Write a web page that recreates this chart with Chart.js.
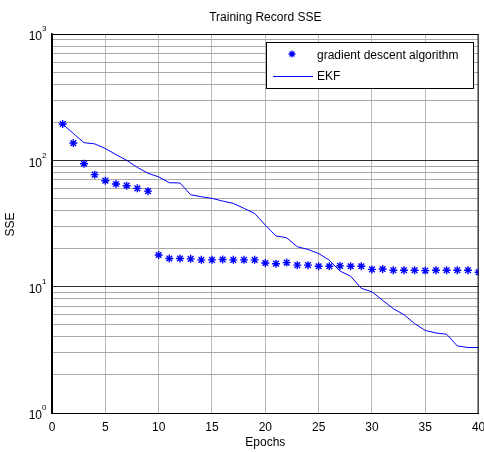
<!DOCTYPE html>
<html>
<head>
<meta charset="utf-8">
<script src="https://cdn.jsdelivr.net/npm/chart.js@4/dist/chart.umd.min.js"></script>
<style>
  html, body { margin: 0; padding: 0; background: #fff; }
  #wrap { width: 484px; height: 452px; }
</style>
</head>
<body>
<div id="wrap"><canvas id="chart" width="484" height="452"></canvas></div>
<script>
// data
const epochs = [1,2,3,4,5,6,7,8,9,10,11,12,13,14,15,16,17,18,19,20,21,22,23,24,25,26,27,28,29,30,31,32,33,34,35,36,37,38,39,40];
const gradientSSE = [194,137,94,77,69,65,63,60,57,17.8,16.7,16.7,16.6,16.3,16.3,16.4,16.3,16.3,16.3,15.4,15.2,15.5,14.8,14.8,14.5,14.5,14.6,14.5,14.5,13.7,13.8,13.5,13.5,13.5,13.4,13.5,13.5,13.5,13.5,13.0];
const ekfSSE = [194,163,138,135,124,111,100,88,79,74,66.5,66.2,53.4,51.5,50,47.6,45.6,41.7,38,30.7,25.2,24.4,20.7,19.7,18.3,16.2,13.3,12.1,9.7,9.1,7.8,6.7,6.0,5.1,4.5,4.3,4.2,3.4,3.3,3.3];
const xTicks = [0,5,10,15,20,25,30,35,40];
const yDecades = [1,10,100,1000];
const yGridTicks = [1,2,3,4,5,6,7,8,9,10,20,30,40,50,60,70,80,90,100,200,300,400,500,600,700,800,900,1000];

const FONT = '"Liberation Sans", Arial, sans-serif';
const BLUE = '#0000ff';

const toPoints = (ys) => epochs.map((x, i) => ({ x: x, y: ys[i] }));

// text, frame and legend drawn the MATLAB way
const matlabDecor = {
  id: 'matlabDecor',
  afterDraw(chart) {
    const ctx = chart.ctx;
    const area = chart.chartArea;
    const xs = chart.scales.x;
    const ys = chart.scales.y;
    ctx.save();

    // frame
    ctx.strokeStyle = '#000';
    ctx.lineWidth = 1;
    ctx.strokeRect(area.left + 0.5, area.top + 0.5, area.right - area.left - 1, area.bottom - area.top);

    ctx.fillStyle = '#000';
    ctx.font = '12px ' + FONT;
    ctx.textAlign = 'center';
    ctx.textBaseline = 'top';
    xTicks.forEach(v => {
      ctx.fillText(String(v), xs.getPixelForValue(v), area.bottom + 9);
    });

    yDecades.forEach((v, i) => {
      const py = ys.getPixelForValue(v);
      ctx.font = '12px ' + FONT;
      ctx.textAlign = 'right';
      ctx.textBaseline = 'middle';
      ctx.fillText('10', area.left - 10, py + 3);
      ctx.font = '8px ' + FONT;
      ctx.textAlign = 'left';
      ctx.fillText(String(i), area.left - 10, py - 5);
    });

    // title and axis labels
    ctx.font = '12px ' + FONT;
    ctx.textAlign = 'center';
    ctx.textBaseline = 'middle';
    ctx.fillText('Training Record SSE', (area.left + area.right) / 2, 18);
    ctx.fillText('Epochs', (area.left + area.right) / 2, 443);
    ctx.save();
    ctx.translate(11, (area.top + area.bottom) / 2 + 1);
    ctx.rotate(-Math.PI / 2);
    ctx.fillText('SSE', 0, 0);
    ctx.restore();

    // legend
    ctx.fillStyle = '#fff';
    ctx.fillRect(266, 42, 207, 46);
    ctx.strokeStyle = '#000';
    ctx.strokeRect(266.5, 42.5, 207, 46);
    ctx.strokeStyle = BLUE;
    ctx.lineWidth = 1.3;
    const sx = 292, sy = 54, r = 3.5;
    ctx.beginPath();
    ctx.moveTo(sx - r, sy); ctx.lineTo(sx + r, sy);
    ctx.moveTo(sx, sy - r); ctx.lineTo(sx, sy + r);
    const d = r * 0.7;
    ctx.moveTo(sx - d, sy - d); ctx.lineTo(sx + d, sy + d);
    ctx.moveTo(sx - d, sy + d); ctx.lineTo(sx + d, sy - d);
    ctx.stroke();
    ctx.lineWidth = 1;
    ctx.beginPath();
    ctx.moveTo(273, 76.5); ctx.lineTo(313, 76.5);
    ctx.stroke();
    ctx.fillStyle = '#000';
    ctx.font = '12px ' + FONT;
    ctx.textAlign = 'left';
    ctx.fillText('gradient descent algorithm', 317, 56);
    ctx.fillText('EKF', 317, 77);

    ctx.restore();
  }
};

new Chart(document.getElementById('chart'), {
  type: 'scatter',
  data: {
    datasets: [
      {
        label: 'gradient descent algorithm',
        data: toPoints(gradientSSE),
        showLine: false,
        pointStyle: 'star',
        pointRadius: 4,
        pointBorderWidth: 1.4,
        borderColor: BLUE,
        backgroundColor: BLUE
      },
      {
        label: 'EKF',
        data: toPoints(ekfSSE),
        showLine: true,
        borderColor: BLUE,
        borderWidth: 1,
        pointRadius: 0,
        tension: 0
      }
    ]
  },
  options: {
    responsive: false,
    animation: false,
    layout: { padding: { left: 52, right: 5, top: 34, bottom: 39 } },
    plugins: {
      legend: { display: false },
      title: { display: false },
      tooltip: { enabled: false }
    },
    scales: {
      x: {
        type: 'linear',
        min: 0,
        max: 40,
        afterBuildTicks: (scale) => { scale.ticks = xTicks.map(v => ({ value: v })); },
        ticks: { display: false },
        grid: { color: '#b8b8b8', drawTicks: false, lineWidth: 1 },
        border: { display: true, color: '#000', width: 1 }
      },
      y: {
        type: 'logarithmic',
        min: 1,
        max: 1000,
        afterBuildTicks: (scale) => { scale.ticks = yGridTicks.map(v => ({ value: v })); },
        ticks: { display: false },
        grid: {
          drawTicks: false,
          color: (c) => yDecades.includes(c.tick && c.tick.value) ? '#303030' : '#a8a8a8',
          lineWidth: 1
        },
        border: { display: true, color: '#000', width: 1.5 }
      }
    }
  },
  plugins: [matlabDecor]
});
</script>
</body>
</html>
